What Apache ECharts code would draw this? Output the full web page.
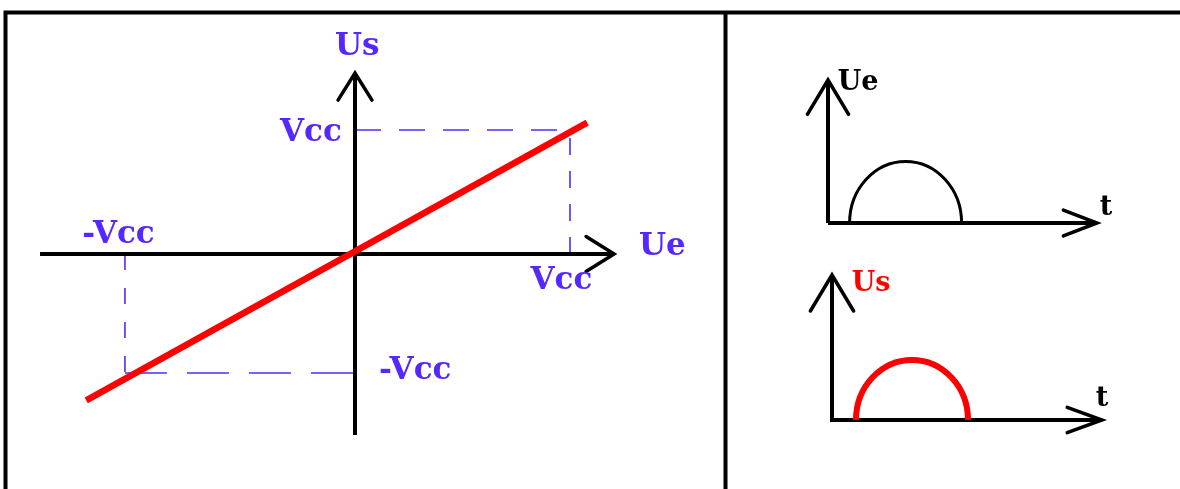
<!DOCTYPE html>
<html><head><meta charset="utf-8">
<script src="https://cdn.jsdelivr.net/npm/echarts@6/dist/echarts.min.js"></script>
<style>html,body{margin:0;padding:0;background:#fff}#c{width:1180px;height:489px}</style>
</head><body><div id="c"></div>
<script>
// ---- Left panel: transfer characteristic Us = f(Ue), units of Vcc ----
const transferLine = [[-1.25, -1.18], [1.08, 1.06]];
const vccPos = [1, 1];
const vccNeg = [-1.07, -0.96];
const leftAxes = [[-1.465, 0, 1.205, 0], [0, -1.46, 0, 1.46]];   // [x0, y0, xTip, yTip]
const leftLabelText = ['Us', 'Vcc', '-Vcc', 'Vcc', '-Vcc', 'Ue'];
const leftLabelPos = [[0.01, 1.67], [-0.205, 0.98], [-1.10, 0.15], [0.96, -0.22], [0.28, -0.945], [1.43, 0.06]];

// ---- Right panels: time plots ----
const ueAxes = [[0, 0, 13.45, 0], [0, 0, 0, 14.3]];
const ueHalfWave = [[1.08, 6.68, 6.15]];   // [tStart, tEnd, peak]
const ueLabelText = ['Ue', 't'];
const ueLabelPos = [[1.5, 14.0], [13.9, 1.5]];

const usAxes = [[0, 0, 13.5, 0], [0, -0.2, 0, 14.5]];
const usHalfWave = [[1.2, 6.8, 6.0]];
const usLabelText = ['Us', 't'];
const usLabelPos = [[1.95, 13.6], [13.5, 2.1]];
const usLabelColors = ['#ff0000', '#000000'];

const BLUE = '#5528ff', RED = '#ff0000', BLACK = '#000000';

function arrowRenderer(hHead, vHead, lw) {
  return function (params, api) {
    const p0 = api.coord([api.value(0), api.value(1)]);
    const p1 = api.coord([api.value(2), api.value(3)]);
    const ang = Math.atan2(p1[1] - p0[1], p1[0] - p0[0]);
    const horiz = Math.abs(p1[0] - p0[0]) > Math.abs(p1[1] - p0[1]);
    const head = horiz ? hHead : vHead;
    const L = head[0], a = head[1] * Math.PI / 180;
    const h1 = [p1[0] - L * Math.cos(ang - a), p1[1] - L * Math.sin(ang - a)];
    const h2 = [p1[0] - L * Math.cos(ang + a), p1[1] - L * Math.sin(ang + a)];
    return {
      type: 'group', children: [
        { type: 'line', shape: { x1: p0[0], y1: p0[1], x2: p1[0], y2: p1[1] }, style: { stroke: BLACK, lineWidth: lw } },
        { type: 'polyline', shape: { points: [h1, p1, h2] }, style: { stroke: BLACK, lineWidth: lw - 0.5, fill: null, lineCap: 'round', lineJoin: 'miter' } }
      ]
    };
  };
}

function arcRenderer(color, lw) {
  return function (params, api) {
    const a = api.coord([api.value(0), 0]);
    const b = api.coord([api.value(1), 0]);
    const top = api.coord([(api.value(0) + api.value(1)) / 2, api.value(2)]);
    const rx = (b[0] - a[0]) / 2, ry = a[1] - top[1];
    return {
      type: 'path',
      shape: { pathData: 'M ' + a[0] + ' ' + a[1] + ' A ' + rx + ' ' + ry + ' 0 0 1 ' + b[0] + ' ' + b[1] },
      style: { stroke: color, lineWidth: lw, fill: null }
    };
  };
}

function labelRenderer(texts, font, colors) {
  return function (params, api) {
    const p = api.coord([api.value(0), api.value(1)]);
    const c = Array.isArray(colors) ? colors[params.dataIndex] : colors;
    return {
      type: 'text', x: p[0], y: p[1],
      style: { text: texts[params.dataIndex], font: font, fill: c, align: 'center', verticalAlign: 'middle' }
    };
  };
}

const FONT_L = 'bold 31px "DejaVu Serif"';
const FONT_R = 'bold 27px "DejaVu Serif"';

function hiddenAxis(idx, min, max) {
  return { type: 'value', gridIndex: idx, min: min, max: max, show: false };
}

const chart = echarts.init(document.getElementById('c'), null, { renderer: 'canvas' });
chart.setOption({
  backgroundColor: '#ffffff',
  animation: false,
  grid: [
    { left: 32.5, top: 30.8, width: 645, height: 446.4 },
    { left: 828, top: 63, width: 300, height: 160 },
    { left: 832, top: 260, width: 300, height: 160 }
  ],
  xAxis: [hiddenAxis(0, -1.5, 1.5), hiddenAxis(1, 0, 15), hiddenAxis(2, 0, 15)],
  yAxis: [hiddenAxis(0, -1.8, 1.8), hiddenAxis(1, 0, 16), hiddenAxis(2, 0, 16)],
  graphic: [
    { type: 'rect', shape: { x: 5.5, y: 12.5, width: 1300, height: 700 }, style: { stroke: BLACK, lineWidth: 4, fill: null }, silent: true },
    { type: 'line', shape: { x1: 725.5, y1: 12, x2: 725.5, y2: 600 }, style: { stroke: BLACK, lineWidth: 4 }, silent: true }
  ],
  series: [
    // dashed guides
    { type: 'line', xAxisIndex: 0, yAxisIndex: 0, data: [[0, vccPos[1]], vccPos], symbol: 'none', lineStyle: { color: BLUE, width: 1.6, type: [26, 18] }, z: 2 },
    { type: 'line', xAxisIndex: 0, yAxisIndex: 0, data: [[vccPos[0], 0], vccPos], symbol: 'none', lineStyle: { color: BLUE, width: 1.6, type: [17, 16] }, z: 2 },
    { type: 'line', xAxisIndex: 0, yAxisIndex: 0, data: [vccNeg, [0, vccNeg[1]]], symbol: 'none', lineStyle: { color: BLUE, width: 1.6, type: [42, 20] }, z: 2 },
    { type: 'line', xAxisIndex: 0, yAxisIndex: 0, data: [[vccNeg[0], 0], vccNeg], symbol: 'none', lineStyle: { color: BLUE, width: 1.6, type: [16, 18] }, z: 2 },
    // left axes
    { type: 'custom', xAxisIndex: 0, yAxisIndex: 0, data: leftAxes, renderItem: arrowRenderer([33, 32], [32, 32], 4), z: 3 },
    // transfer line
    { type: 'line', xAxisIndex: 0, yAxisIndex: 0, data: transferLine, symbol: 'none', lineStyle: { color: RED, width: 6.5 }, z: 4 },
    { type: 'custom', xAxisIndex: 0, yAxisIndex: 0, data: leftLabelPos, renderItem: labelRenderer(leftLabelText, FONT_L, BLUE), z: 5 },
    // Ue(t)
    { type: 'custom', xAxisIndex: 1, yAxisIndex: 1, data: ueAxes, renderItem: arrowRenderer([36, 21], [40, 31], 4), z: 3 },
    { type: 'custom', xAxisIndex: 1, yAxisIndex: 1, data: ueHalfWave, renderItem: arcRenderer(BLACK, 3), z: 4 },
    { type: 'custom', xAxisIndex: 1, yAxisIndex: 1, data: ueLabelPos, renderItem: labelRenderer(ueLabelText, FONT_R, BLACK), z: 5 },
    // Us(t)
    { type: 'custom', xAxisIndex: 2, yAxisIndex: 2, data: usAxes, renderItem: arrowRenderer([37, 20], [42, 31], 4), z: 3 },
    { type: 'custom', xAxisIndex: 2, yAxisIndex: 2, data: usHalfWave, renderItem: arcRenderer(RED, 6), z: 4 },
    { type: 'custom', xAxisIndex: 2, yAxisIndex: 2, data: usLabelPos, renderItem: labelRenderer(usLabelText, FONT_R, usLabelColors), z: 5 }
  ]
});
</script>
</body></html>
